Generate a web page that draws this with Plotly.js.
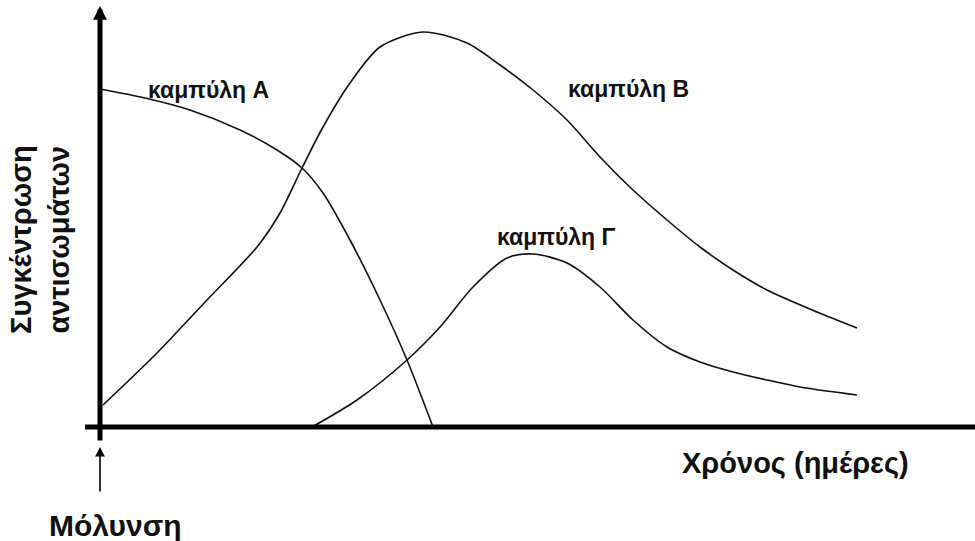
<!DOCTYPE html>
<html>
<head>
<meta charset="utf-8">
<script src="https://cdn.plot.ly/plotly-3.0.1.min.js"></script>
<style>
  html, body { margin: 0; padding: 0; background: #fff; }
  #chart { width: 975px; height: 541px; }
</style>
</head>
<body>
<div id="chart"></div>
<script>
// time (arbitrary units, 0 = infection) and antibody concentration
const xA = [0, 45, 90, 140, 177, 202, 223, 250, 280, 307, 333];
const yA = [338, 329, 317, 297, 277, 259, 234, 187, 127, 67, 0];

const xB = [3, 57, 107, 157, 180, 202, 223, 250, 280, 323, 367, 400, 433, 467, 500, 533, 567, 600, 633, 667, 717, 757];
const yB = [22, 74, 127, 180, 214, 259, 300, 344, 380, 395, 384, 362, 337, 307, 270, 237, 207, 180, 157, 137, 115, 99];

const xC = [212, 257, 307, 340, 373, 407, 433, 467, 500, 533, 567, 600, 633, 667, 700, 757];
const yC = [0, 27, 67, 100, 140, 169, 173, 164, 140, 107, 80, 65, 55, 47, 40, 32];

const curveNames = ["καμπύλη A", "καμπύλη B", "καμπύλη Γ"];

const FONT = "Liberation Sans, Arial, sans-serif";

function curve(x, y, name){
    return {
        x: x, y: y, name: name,
        type: "scatter", mode: "lines",
        line: {color: "#111", width: 1.6, shape: "spline", smoothing: 0.8},
        hoverinfo: "skip"
    };
}

var data = [
    curve(xA, yA, curveNames[0]),
    curve(xB, yB, curveNames[1]),
    curve(xC, yC, curveNames[2])
];

function label(text, x, y, size, extra){
    return Object.assign({
        text: "<b>" + text + "</b>", x: x, y: y, xref: "x", yref: "y",
        showarrow: false, font: {family: FONT, size: size, color: "#111"}
    }, extra || {});
}

function arrow(x, y, ax, ay, w, size){  // head at (x,y), tail at (ax,ay)
    return {
        x: x, y: y, ax: ax, ay: ay, xref: "x", yref: "y", axref: "x", ayref: "y",
        text: "", showarrow: true, arrowhead: 2, arrowsize: size, arrowwidth: w,
        arrowcolor: "#000", standoff: 0, startstandoff: 0
    };
}

const layout = {
    width: 975, height: 541,
    margin: {l: 0, r: 0, t: 0, b: 0},
    paper_bgcolor: "#fff", plot_bgcolor: "#fff",
    showlegend: false,
    xaxis: {range: [-100, 875], visible: false, fixedrange: true},
    yaxis: {range: [-114, 427], visible: false, fixedrange: true},
    shapes: [
        {type: "line", xref: "x", yref: "y", x0: -15, x1: 875, y0: 0, y1: 0,
         line: {color: "#000", width: 5}}
    ],
    annotations: [
        arrow(0, 421, 0, -15, 5, 0.55),
        arrow(0, -20, 0, -66, 1.6, 1.2),
        label(curveNames[0], 108, 337, 23),
        label(curveNames[1], 528, 338, 23),
        label(curveNames[2], 456, 190, 23),
        label("Χρόνος (ημέρες)", 695, -36, 29),
        label("Μόλυνση", 15, -98, 30),
        label("Συγκέντρωση<br>αντισωμάτων", -60, 187, 29, {textangle: -90})
    ]
};

Plotly.newPlot("chart", data, layout, {staticPlot: true});
</script>
</body>
</html>
